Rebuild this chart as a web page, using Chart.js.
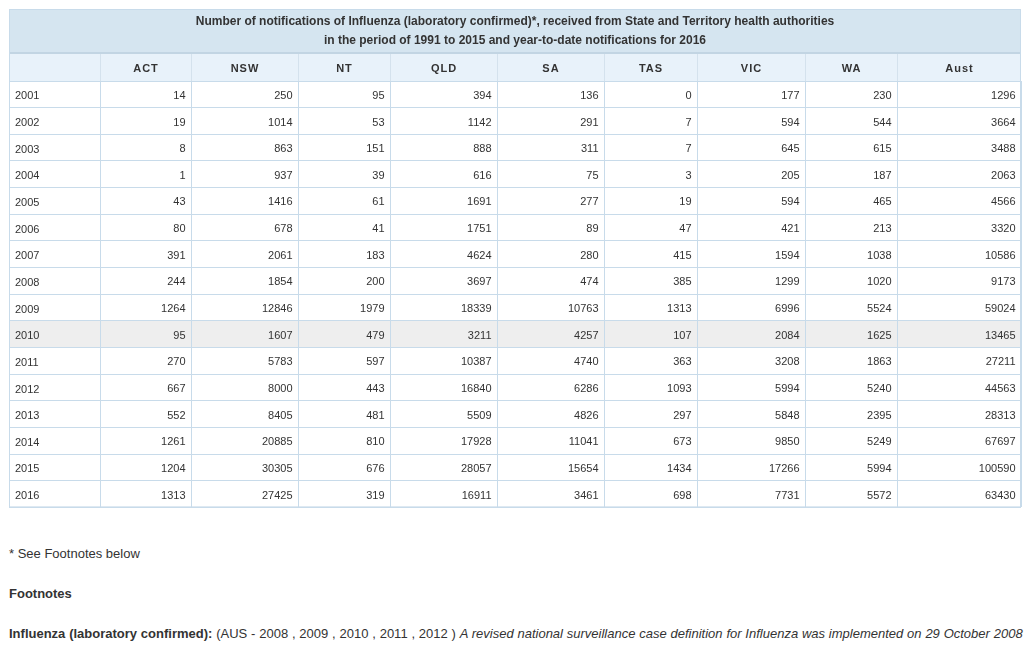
<!DOCTYPE html>
<html>
<head>
<meta charset="utf-8">
<script src="https://cdn.jsdelivr.net/npm/chart.js@4.4.1/dist/chart.umd.min.js"></script>
<style>
  html, body { margin:0; padding:0; background:#fff; }
  body { width:1036px; height:654px; position:relative; overflow:hidden;
         font-family: Arial, "Liberation Sans", sans-serif; color:#333; }
  #wrap { position:absolute; left:0; top:0; width:1036px; height:520px; }
  .note { position:absolute; left:9px; font-size:13px; line-height:16px; white-space:nowrap; }
</style>
</head>
<body>
<div id="wrap"><canvas id="tbl"></canvas></div>
<div class="note" style="top:546px">* See Footnotes below</div>
<div class="note" style="top:586px"><b>Footnotes</b></div>
<div class="note" style="top:626px; word-spacing:0.2px"><b>Influenza (laboratory confirmed):</b> (AUS - 2008 , 2009 , 2010 , 2011 , 2012 ) <i>A revised national surveillance case definition for Influenza was implemented on 29 October 2008</i></div>

<script>
/* =====================
   데이터
===================== */
const TITLE_LINES = [
  "Number of notifications of Influenza (laboratory confirmed)*, received from State and Territory health authorities",
  "in the period of 1991 to 2015 and year-to-date notifications for 2016"
];
const YEARS = ["2001","2002","2003","2004","2005","2006","2007","2008","2009","2010","2011","2012","2013","2014","2015","2016"];
const REGIONS = ["ACT","NSW","NT","QLD","SA","TAS","VIC","WA","Aust"];

const ACT  = [14,19,8,1,43,80,391,244,1264,95,270,667,552,1261,1204,1313];
const NSW  = [250,1014,863,937,1416,678,2061,1854,12846,1607,5783,8000,8405,20885,30305,27425];
const NT   = [95,53,151,39,61,41,183,200,1979,479,597,443,481,810,676,319];
const QLD  = [394,1142,888,616,1691,1751,4624,3697,18339,3211,10387,16840,5509,17928,28057,16911];
const SA   = [136,291,311,75,277,89,280,474,10763,4257,4740,6286,4826,11041,15654,3461];
const TAS  = [0,7,7,3,19,47,415,385,1313,107,363,1093,297,673,1434,698];
const VIC  = [177,594,645,205,594,421,1594,1299,6996,2084,3208,5994,5848,9850,17266,7731];
const WA   = [230,544,615,187,465,213,1038,1020,5524,1625,1863,5240,2395,5249,5994,5572];
const AUST = [1296,3664,3488,2063,4566,3320,10586,9173,59024,13465,27211,44563,28313,67697,100590,63430];

const SERIES = [ACT, NSW, NT, QLD, SA, TAS, VIC, WA, AUST];
const HIGHLIGHT_YEAR = "2010";

/* =====================
   레이아웃 / 스타일
===================== */
const COL_WIDTHS = [91, 91, 107, 92, 107, 107, 93, 108, 92, 124]; // year col + regions
const EDGES = COL_WIDTHS.reduce((a, w) => { a.push(a[a.length-1] + w); return a; }, [0]);
const TOTAL_W = EDGES[EDGES.length-1];

const TOP = 9, TITLE_BOTTOM = 53, HEAD_BOTTOM = 81;
const C_TEXT = "#333333";
const C_GRID = "#c8dbea";
const C_TITLE_BG = "#d5e5f0";
const C_HEAD_BG = "#e8f2fa";
const C_HILITE = "#eeeeee";
const FONT = 'Arial, "Liberation Sans", sans-serif';

/* =====================
   표 그리기 플러그인
===================== */
const tablePlugin = {
  id: "tablePlugin",
  beforeDraw(chart){
    const {ctx, chartArea: a, scales: {y}} = chart;
    ctx.save();
    ctx.fillStyle = C_TITLE_BG;
    ctx.fillRect(a.left, TOP, a.right - a.left, TITLE_BOTTOM - TOP);
    ctx.fillStyle = C_HEAD_BG;
    ctx.fillRect(a.left, TITLE_BOTTOM, a.right - a.left, HEAD_BOTTOM - TITLE_BOTTOM);
    // hovered row
    const i = YEARS.indexOf(HIGHLIGHT_YEAR);
    const band = (a.bottom - a.top) / YEARS.length;
    const cy = y.getPixelForValue(i);
    ctx.fillStyle = C_HILITE;
    ctx.fillRect(a.left, cy - band/2, a.right - a.left, band);
    ctx.restore();
  },
  afterDatasetsDraw(chart){
    const {ctx} = chart;
    ctx.save();
    ctx.font = "11px " + FONT;
    ctx.fillStyle = C_TEXT;
    ctx.textAlign = "right";
    ctx.textBaseline = "middle";
    chart.data.datasets.forEach((ds, di) => {
      const meta = chart.getDatasetMeta(di);
      meta.data.forEach((el, j) => {
        ctx.fillText(String(ds.data[j].v), el.x - 5.5, el.y + 1.5);
      });
    });
    ctx.restore();
  },
  afterDraw(chart){
    const {ctx, chartArea: a, scales: {x}} = chart;
    ctx.save();
    // header vertical lines
    ctx.strokeStyle = "#d4e2ed";
    ctx.lineWidth = 1;
    EDGES.slice(1, -1).forEach(v => {
      const px = Math.round(x.getPixelForValue(v)) + 0.5;
      ctx.beginPath(); ctx.moveTo(px, TITLE_BOTTOM); ctx.lineTo(px, HEAD_BOTTOM); ctx.stroke();
    });
    // title / header separator
    ctx.strokeStyle = "#c2d5e3";
    ctx.lineWidth = 2;
    ctx.beginPath(); ctx.moveTo(a.left, TITLE_BOTTOM); ctx.lineTo(a.right, TITLE_BOTTOM); ctx.stroke();
    // outer border
    ctx.strokeStyle = C_GRID;
    ctx.lineWidth = 1;
    ctx.strokeRect(a.left + 0.5, TOP + 0.5, a.right - a.left - 1, a.bottom - TOP - 1);

    // title
    ctx.fillStyle = C_TEXT;
    ctx.textAlign = "center";
    ctx.textBaseline = "middle";
    ctx.font = "bold 12px " + FONT;
    const cx = (a.left + a.right) / 2;
    ctx.fillText(TITLE_LINES[0], cx, 21.5);
    ctx.fillText(TITLE_LINES[1], cx, 40.5);

    // column headers
    ctx.font = "bold 11px " + FONT;
    ctx.letterSpacing = "1px";
    REGIONS.forEach((r, k) => {
      const mid = x.getPixelForValue((EDGES[k+1] + EDGES[k+2]) / 2);
      ctx.fillText(r, mid + 0.5, 68.5);
    });
    ctx.restore();
  }
};

/* =====================
   차트
===================== */
const datasets = REGIONS.map((r, k) => ({
  label: r,
  data: YEARS.map((yr, j) => ({x: EDGES[k+2], y: yr, v: SERIES[k][j]})),
  pointRadius: 0,
  pointHoverRadius: 0,
  showLine: false
}));

new Chart(document.getElementById("tbl"), {
  type: "scatter",
  data: { labels: YEARS, datasets },
  plugins: [tablePlugin],
  options: {
    responsive: true,
    maintainAspectRatio: false,
    animation: false,
    events: [],
    layout: { padding: { left: 9, right: 15, top: HEAD_BOTTOM, bottom: 7 } },
    plugins: { legend: { display: false }, tooltip: { enabled: false }, title: { display: false } },
    scales: {
      x: {
        type: "linear",
        min: 0,
        max: TOTAL_W,
        afterBuildTicks: s => { s.ticks = EDGES.map(v => ({value: v})); },
        grid: { color: C_GRID, drawTicks: false },
        border: { display: false },
        ticks: { display: false }
      },
      y: {
        type: "category",
        labels: YEARS,
        offset: true,
        afterFit: s => { s.width = 0; },
        grid: { offset: true, color: C_GRID, drawTicks: false },
        border: { display: false },
        ticks: { mirror: true, padding: 6, labelOffset: 2, color: C_TEXT, font: { size: 11, family: FONT } }
      }
    }
  }
});
</script>
</body>
</html>
